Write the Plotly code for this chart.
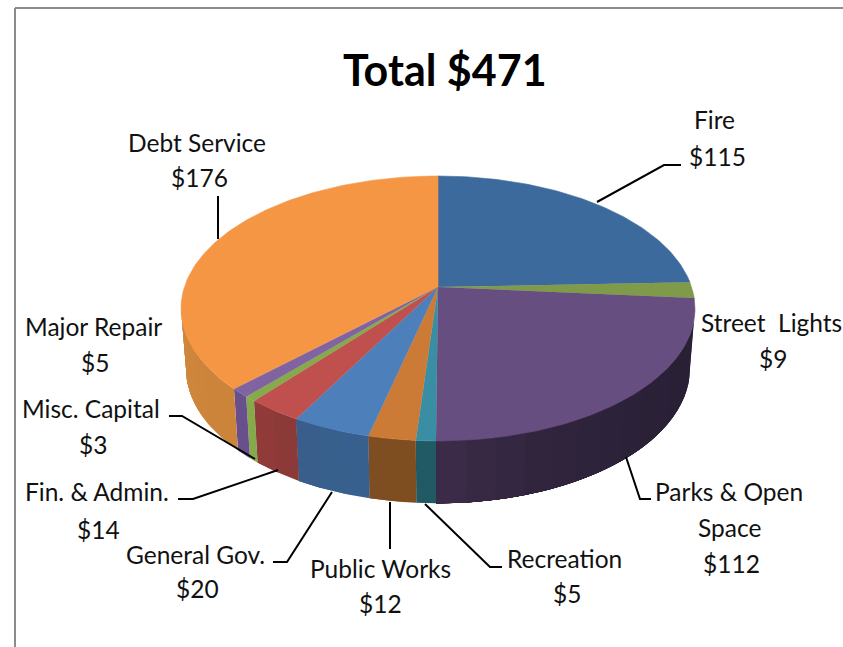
import math
import plotly.graph_objects as go

# ---- data -------------------------------------------------------------
categories = ["Fire", "Street Lights", "Parks & Open Space", "Recreation", "Public Works",
              "General Gov.", "Fin. & Admin.", "Misc. Capital", "Major Repair", "Debt Service"]
values = [115, 9, 112, 5, 12, 20, 14, 3, 5, 176]
title_text = "Total $471"

# ---- styles -----------------------------------------------------------
top_colors = ["#3d6a9c", "#7f9a48", "#664e80", "#3a8ea3", "#cb7b35",
              "#4d7fbb", "#c0504d", "#86a94c", "#8064a2", "#f59645"]
wall_colors = [("#2f5480", "#2f5480"), ("#65803a", "#65803a"), ("#292036", "#3d2c4a"),
               ("#215a64", "#215a64"), ("#7f4e20", "#7c4b22"), ("#38608e", "#3a5c88"),
               ("#8c3a38", "#963c3a"), ("#86a94c", "#86a94c"), ("#67508c", "#67508c"),
               ("#cc843a", "#d48c42")]
FONT = "Lato"
FS = 24.5
TEXT = "#111111"

label_lines = [
    ("Fire", 714, 119), ("$115", 717, 156),
    ("Street&nbsp; Lights", 771, 322), ("$9", 773, 358),
    ("Parks & Open", 729, 491), ("Space", 729, 527), ("$112", 731, 563),
    ("Recreation", 564, 558), ("$5", 567, 593),
    ("Public Works", 380, 568), ("$12", 380, 603),
    ("General Gov.", 195, 554), ("$20", 197, 588),
    ("Fin. & Admin.", 97, 491), ("$14", 98, 529),
    ("Misc. Capital", 91, 408), ("$3", 93, 444),
    ("Major Repair", 93, 326), ("$5", 95, 362),
    ("Debt Service", 197, 142), ("$176", 199, 177),
]
leaders = [
    [(597, 202), (664, 165), (681, 165)],
    [(218, 196), (218, 239)],
    [(626, 457), (640, 499), (651, 499)],
    [(425, 504), (490, 567), (502, 567)],
    [(390, 502), (390, 549)],
    [(332, 492), (287, 562), (273, 562)],
    [(278, 470), (193, 499), (178, 499)],
    [(255, 459), (182, 416), (169, 416)],
]

# ---- projection of the tilted disc ------------------------------------
K = 0.162
CX = 438


def top(theta):
    t = math.radians(theta)
    d = 1 + K * math.cos(t)
    return CX + 253.6 * math.sin(t) / d, 287 - 129 * math.cos(t) / d


def bottom(theta):
    t = math.radians(theta)
    d = 1 + K * math.cos(t)
    return CX + 248.7 * math.sin(t) / d, 346.5 - 131.4 * math.cos(t) / d


def mix(c1, c2, f):
    a = [int(c1[i:i + 2], 16) for i in (1, 3, 5)]
    b = [int(c2[i:i + 2], 16) for i in (1, 3, 5)]
    return "rgb(%d,%d,%d)" % tuple(round(p + (q - p) * f) for p, q in zip(a, b))


total = sum(values)
edges = [0]
for v in values:
    edges.append(edges[-1] + v / total * 360)

VIS_A, VIS_B = 99.3, 260.7
fig = go.Figure()


def poly(xs, ys, color, name, lw=0.6):
    fig.add_trace(go.Scatter(x=xs, y=ys, mode="lines", fill="toself", fillcolor=color,
                             line=dict(color=color, width=lw), name=name,
                             hoverinfo="name", showlegend=False))


# walls: overlapping strips so that no seams show
for i, name in enumerate(categories):
    a, b = max(edges[i], VIS_A), min(edges[i + 1], VIS_B)
    if b <= a:
        continue
    n = max(1, math.ceil((b - a) / 6))
    for s in range(n):
        t0 = a + (b - a) * s / n
        t1 = b
        ang = [t0 + (t1 - t0) * j / 24 for j in range(25)]
        pts = [top(t) for t in ang] + [bottom(t) for t in reversed(ang)]
        f = ((s + 0.5) / n) ** 3
        poly([p[0] for p in pts], [p[1] for p in pts],
             mix(wall_colors[i][0], wall_colors[i][1], f), name, 0)

# top faces
for i, name in enumerate(categories):
    a, b = edges[i], edges[i + 1]
    n = max(4, math.ceil(b - a))
    pts = [top(a + (b - a) * j / n) for j in range(n + 1)] + [(CX, 287)]
    poly([p[0] for p in pts], [p[1] for p in pts], top_colors[i], name)

# leader lines
for seg in leaders:
    fig.add_trace(go.Scatter(x=[p[0] for p in seg], y=[p[1] for p in seg], mode="lines",
                             line=dict(color="#000000", width=2), hoverinfo="skip", showlegend=False))

for text, x, y in label_lines:
    fig.add_annotation(x=x, y=y, text=text, showarrow=False, xanchor="center", yanchor="middle",
                       font=dict(family=FONT, size=FS, color=TEXT))
fig.add_annotation(x=445, y=69, text="<b>%s</b>" % title_text, showarrow=False,
                   xanchor="center", yanchor="middle",
                   font=dict(family=FONT, size=43, color="#000000"))

fig.add_shape(type="line", x0=15, y0=8, x1=843, y1=8, line=dict(color="#8c8c8c", width=2))
fig.add_shape(type="line", x0=15, y0=8, x1=15, y1=647, line=dict(color="#8c8c8c", width=2))

fig.update_xaxes(range=[0, 843], visible=False, fixedrange=True)
fig.update_yaxes(range=[647, 0], visible=False, fixedrange=True)
fig.update_layout(width=843, height=647, margin=dict(l=0, r=0, t=0, b=0),
                  paper_bgcolor="white", plot_bgcolor="white", showlegend=False)
fig.write_html("out.html", config={"displayModeBar": False},
               post_script="document.body.style.margin='0';document.documentElement.style.overflow='hidden';")
